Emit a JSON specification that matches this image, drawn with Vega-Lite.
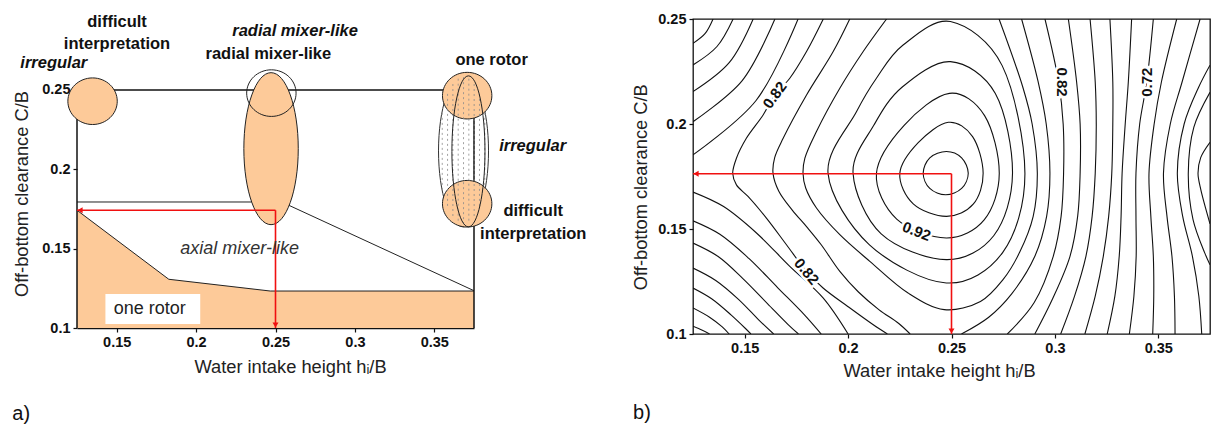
{
"$schema":"https://vega.github.io/schema/vega-lite/v6.json",
"background":"white",
"padding":{"left":12,"top":10,"right":0,"bottom":0},
"bounds":"flush",
"spacing":219,
"config":{
 "view":{"stroke":null},
 "axis":{"grid":false,"labelFont":"Liberation Sans","labelFontSize":14.5,"labelFontWeight":"bold","labelColor":"#111","tickColor":"#111","domainColor":"#111","tickSize":4,"tickWidth":1.2,"labelPadding":3,"titleFont":"Liberation Sans","titleFontSize":18.3,"titleFontWeight":"normal","titleColor":"#222"},
 "text":{"font":"Liberation Sans"}
},
"datasets":{
 "oneRotor":[{"x":0.125,"y":0.1742},{"x":0.1828,"y":0.1307},{"x":0.2467,"y":0.1233},{"x":0.375,"y":0.1233}],
 "bndA":[
  {"id":"lo","o":0,"x":0.125,"y":0.1742},{"id":"lo","o":1,"x":0.1828,"y":0.1307},{"id":"lo","o":2,"x":0.2467,"y":0.1233},{"id":"lo","o":3,"x":0.375,"y":0.1233},
  {"id":"up","o":0,"x":0.125,"y":0.1794},{"id":"up","o":1,"x":0.2539,"y":0.1794},{"id":"up","o":2,"x":0.375,"y":0.1235}],
 "boxA":[{"x":0.1429,"x2":0.2026,"y":0.1025,"y2":0.1214}],
 "frameA":[{"x":0.125,"y":0.1,"x2":0.125,"y2":0.25},{"x":0.125,"y":0.25,"x2":0.375,"y2":0.25},{"x":0.375,"y":0.1,"x2":0.375,"y2":0.25}],
 "ticksX":[{"x":0.15},{"x":0.2},{"x":0.25},{"x":0.3},{"x":0.35}],
 "ticksY":[{"y":0.15},{"y":0.2}],
 "shpA":[{"k":"lc","x":0.1348,"y":0.2429},{"k":"oc","x":0.2474,"y":0.248},{"k":"te","x":0.2472,"y":0.213},{"k":"rc","x":0.3707,"y":0.2464},{"k":"rc","x":0.3707,"y":0.1783},{"k":"we","x":0.3684,"y":0.2116},{"k":"ne","x":0.3715,"y":0.2113}],
 "arrA":[{"x":0.25,"y":0.1742,"x2":0.125,"y2":0.1742},{"x":0.25,"y":0.1742,"x2":0.25,"y2":0.1}],
 "headA":[{"k":"l","x":0.125,"y":0.1742},{"k":"d","x":0.25,"y":0.1}],
 "arrB":[{"x":0.25,"y":0.1763,"x2":0.125,"y2":0.1763},{"x":0.25,"y":0.1763,"x2":0.25,"y2":0.1}],
 "headB":[{"k":"l","x":0.125,"y":0.1763},{"k":"d","x":0.25,"y":0.1}],
 "txtA":[
  {"t":"difficult","x":0.1502,"y":0.2929,"k":"b"},
  {"t":"interpretation","x":0.1502,"y":0.2792,"k":"b"},
  {"t":"radial mixer-like","x":0.2455,"y":0.2729,"k":"b"},
  {"t":"one rotor","x":0.3861,"y":0.2687,"k":"b"},
  {"t":"difficult","x":0.4123,"y":0.1736,"k":"b"},
  {"t":"interpretation","x":0.4123,"y":0.1594,"k":"b"},
  {"t":"irregular","x":0.1104,"y":0.267,"k":"bi"},
  {"t":"irregular","x":0.4119,"y":0.2147,"k":"bi"},
  {"t":"radial mixer-like","x":0.2623,"y":0.287,"k":"bi"},
  {"t":"axial mixer-like","x":0.2274,"y":0.15,"k":"i"},
  {"t":"one rotor","x":0.1708,"y":0.1118,"k":"n"}],
 "capA":[{"t":"a)","x":0.0899,"y":0.0458}],
 "capB":[{"t":"b)","x":0.1003,"y":0.0623}],
 "labB":[
  {"k":"a","t":"0.82","x":0.1645,"y":0.2138},
  {"k":"b","t":"0.82","x":0.1799,"y":0.1298},
  {"k":"c","t":"0.92","x":0.2331,"y":0.1489},
  {"k":"d","t":"0.82","x":0.3035,"y":0.22},
  {"k":"e","t":"0.72","x":0.3444,"y":0.2199}],
 "loops":[
  {"id":"L96","o":0,"x":0.2581,"y":0.1765},{"id":"L96","o":1,"x":0.2549,"y":0.1839},{"id":"L96","o":2,"x":0.2475,"y":0.1869},{"id":"L96","o":3,"x":0.2395,"y":0.1839},{"id":"L96","o":4,"x":0.2363,"y":0.1765},{"id":"L96","o":5,"x":0.2395,"y":0.1693},{"id":"L96","o":6,"x":0.2472,"y":0.1663},{"id":"L96","o":7,"x":0.2549,"y":0.1693},
  {"id":"L94","o":0,"x":0.2653,"y":0.1765},{"id":"L94","o":1,"x":0.2602,"y":0.194},{"id":"L94","o":2,"x":0.2485,"y":0.2008},{"id":"L94","o":3,"x":0.2339,"y":0.1911},{"id":"L94","o":4,"x":0.225,"y":0.1765},{"id":"L94","o":5,"x":0.2315,"y":0.162},{"id":"L94","o":6,"x":0.2475,"y":0.156},{"id":"L94","o":7,"x":0.2605,"y":0.1618},
  {"id":"L92","o":0,"x":0.2731,"y":0.1765},{"id":"L92","o":1,"x":0.266,"y":0.204},{"id":"L92","o":2,"x":0.249,"y":0.2146},{"id":"L92","o":3,"x":0.2271,"y":0.1994},{"id":"L92","o":4,"x":0.2137,"y":0.1765},{"id":"L92","o":5,"x":0.2235,"y":0.1547},{"id":"L92","o":6,"x":0.2475,"y":0.1457},{"id":"L92","o":7,"x":0.2658,"y":0.1543},
  {"id":"L90","o":0,"x":0.2795,"y":0.1765},{"id":"L90","o":1,"x":0.2712,"y":0.2145},{"id":"L90","o":2,"x":0.2495,"y":0.2297},{"id":"L90","o":3,"x":0.2262,"y":0.2176},{"id":"L90","o":4,"x":0.2125,"y":0.1995},{"id":"L90","o":5,"x":0.2024,"y":0.1765},{"id":"L90","o":6,"x":0.216,"y":0.1477},{"id":"L90","o":7,"x":0.2475,"y":0.1354},{"id":"L90","o":8,"x":0.2705,"y":0.1469},
  {"id":"L88","o":0,"x":0.2855,"y":0.1765},{"id":"L88","o":1,"x":0.2745,"y":0.2278},{"id":"L88","o":2,"x":0.2495,"y":0.2488},{"id":"L88","o":3,"x":0.2266,"y":0.2376},{"id":"L88","o":4,"x":0.2137,"y":0.2218},{"id":"L88","o":5,"x":0.2041,"y":0.2059},{"id":"L88","o":6,"x":0.1903,"y":0.1765},{"id":"L88","o":7,"x":0.2102,"y":0.1426},{"id":"L88","o":8,"x":0.2475,"y":0.1243},{"id":"L88","o":9,"x":0.2748,"y":0.1389}],
 "open":[
  {"id":"T72","o":0,"x":0.125,"y":0.2384},{"id":"T72","o":1,"x":0.1308,"y":0.243},{"id":"T72","o":2,"x":0.1347,"y":0.25},
  {"id":"T74","o":0,"x":0.125,"y":0.2281},{"id":"T74","o":1,"x":0.1366,"y":0.2369},{"id":"T74","o":2,"x":0.1444,"y":0.25},
  {"id":"T76","o":0,"x":0.125,"y":0.2154},{"id":"T76","o":1,"x":0.1425,"y":0.2292},{"id":"T76","o":2,"x":0.1541,"y":0.25},
  {"id":"T78","o":0,"x":0.125,"y":0.2011},{"id":"T78","o":1,"x":0.1488,"y":0.2207},{"id":"T78","o":2,"x":0.1646,"y":0.25},
  {"id":"T80","o":0,"x":0.125,"y":0.1853},{"id":"T80","o":1,"x":0.1555,"y":0.2112},{"id":"T80","o":2,"x":0.1758,"y":0.25},
  {"id":"B68","o":0,"x":0.125,"y":0.1037},{"id":"B68","o":1,"x":0.1295,"y":0.1018},{"id":"B68","o":2,"x":0.133,"y":0.1},
  {"id":"B70","o":0,"x":0.125,"y":0.1124},{"id":"B70","o":1,"x":0.133,"y":0.108},{"id":"B70","o":2,"x":0.139,"y":0.1035},{"id":"B70","o":3,"x":0.1425,"y":0.1},
  {"id":"B72","o":0,"x":0.125,"y":0.1219},{"id":"B72","o":1,"x":0.134,"y":0.1168},{"id":"B72","o":2,"x":0.1435,"y":0.109},{"id":"B72","o":3,"x":0.1505,"y":0.1025},{"id":"B72","o":4,"x":0.153,"y":0.1},
  {"id":"B74","o":0,"x":0.125,"y":0.1314},{"id":"B74","o":1,"x":0.136,"y":0.1255},{"id":"B74","o":2,"x":0.147,"y":0.1165},{"id":"B74","o":3,"x":0.157,"y":0.1065},{"id":"B74","o":4,"x":0.164,"y":0.1},
  {"id":"B76","o":0,"x":0.125,"y":0.1433},{"id":"B76","o":1,"x":0.137,"y":0.137},{"id":"B76","o":2,"x":0.149,"y":0.1265},{"id":"B76","o":3,"x":0.161,"y":0.1145},{"id":"B76","o":4,"x":0.171,"y":0.1045},{"id":"B76","o":5,"x":0.176,"y":0.1},
  {"id":"B78","o":0,"x":0.125,"y":0.1539},{"id":"B78","o":1,"x":0.138,"y":0.1475},{"id":"B78","o":2,"x":0.152,"y":0.136},{"id":"B78","o":3,"x":0.166,"y":0.122},{"id":"B78","o":4,"x":0.179,"y":0.109},{"id":"B78","o":5,"x":0.187,"y":0.1},
  {"id":"B80","o":0,"x":0.125,"y":0.1676},{"id":"B80","o":1,"x":0.1396,"y":0.1608},{"id":"B80","o":2,"x":0.1557,"y":0.1481},{"id":"B80","o":3,"x":0.1718,"y":0.1322},{"id":"B80","o":4,"x":0.1879,"y":0.1172},{"id":"B80","o":5,"x":0.2,"y":0.1},
  {"id":"C82L","o":0,"x":0.188,"y":0.25},{"id":"C82L","o":1,"x":0.1799,"y":0.2345},{"id":"C82L","o":2,"x":0.1718,"y":0.2218},{"id":"C82L","o":3,"x":0.1645,"y":0.2138},{"id":"C82L","o":4,"x":0.1589,"y":0.2043},{"id":"C82L","o":5,"x":0.1508,"y":0.1932},{"id":"C82L","o":6,"x":0.146,"y":0.1837},{"id":"C82L","o":7,"x":0.1442,"y":0.1765},{"id":"C82L","o":8,"x":0.146,"y":0.171},{"id":"C82L","o":9,"x":0.1516,"y":0.1655},{"id":"C82L","o":10,"x":0.1605,"y":0.1552},{"id":"C82L","o":11,"x":0.1702,"y":0.1425},{"id":"C82L","o":12,"x":0.1799,"y":0.1298},{"id":"C82L","o":13,"x":0.1879,"y":0.1219},{"id":"C82L","o":14,"x":0.2,"y":0.113},{"id":"C82L","o":15,"x":0.212,"y":0.1045},{"id":"C82L","o":16,"x":0.219,"y":0.1},
  {"id":"C84L","o":0,"x":0.2008,"y":0.25},{"id":"C84L","o":1,"x":0.1928,"y":0.2345},{"id":"C84L","o":2,"x":0.1799,"y":0.2138},{"id":"C84L","o":3,"x":0.1686,"y":0.1932},{"id":"C84L","o":4,"x":0.1645,"y":0.184},{"id":"C84L","o":5,"x":0.1637,"y":0.1765},{"id":"C84L","o":6,"x":0.1665,"y":0.168},{"id":"C84L","o":7,"x":0.173,"y":0.159},{"id":"C84L","o":8,"x":0.18,"y":0.151},{"id":"C84L","o":9,"x":0.187,"y":0.1425},{"id":"C84L","o":10,"x":0.196,"y":0.1298},{"id":"C84L","o":11,"x":0.205,"y":0.12},{"id":"C84L","o":12,"x":0.215,"y":0.1115},{"id":"C84L","o":13,"x":0.2245,"y":0.105},{"id":"C84L","o":14,"x":0.23,"y":0.1},
  {"id":"C86","o":0,"x":0.2186,"y":0.25},{"id":"C86","o":1,"x":0.2073,"y":0.2345},{"id":"C86","o":2,"x":0.196,"y":0.217},{"id":"C86","o":3,"x":0.1847,"y":0.1964},{"id":"C86","o":4,"x":0.1791,"y":0.1837},{"id":"C86","o":5,"x":0.1782,"y":0.1765},{"id":"C86","o":6,"x":0.1795,"y":0.1695},{"id":"C86","o":7,"x":0.1847,"y":0.16},{"id":"C86","o":8,"x":0.196,"y":0.1473},{"id":"C86","o":9,"x":0.2105,"y":0.1346},{"id":"C86","o":10,"x":0.229,"y":0.1195},{"id":"C86","o":11,"x":0.2465,"y":0.1116},{"id":"C86","o":12,"x":0.264,"y":0.1155},{"id":"C86","o":13,"x":0.275,"y":0.126},{"id":"C86","o":14,"x":0.283,"y":0.139},{"id":"C86","o":15,"x":0.2895,"y":0.156},{"id":"C86","o":16,"x":0.2915,"y":0.1765},{"id":"C86","o":17,"x":0.289,"y":0.2},{"id":"C86","o":18,"x":0.2845,"y":0.2175},{"id":"C86","o":19,"x":0.273,"y":0.25},
  {"id":"C84R","o":0,"x":0.2548,"y":0.1},{"id":"C84R","o":1,"x":0.268,"y":0.108},{"id":"C84R","o":2,"x":0.279,"y":0.119},{"id":"C84R","o":3,"x":0.2903,"y":0.137},{"id":"C84R","o":4,"x":0.296,"y":0.156},{"id":"C84R","o":5,"x":0.2976,"y":0.1765},{"id":"C84R","o":6,"x":0.2958,"y":0.2},{"id":"C84R","o":7,"x":0.2918,"y":0.2205},{"id":"C84R","o":8,"x":0.2839,"y":0.25},
  {"id":"C82R","o":0,"x":0.277,"y":0.1},{"id":"C82R","o":1,"x":0.29,"y":0.115},{"id":"C82R","o":2,"x":0.2992,"y":0.137},{"id":"C82R","o":3,"x":0.303,"y":0.156},{"id":"C82R","o":4,"x":0.3042,"y":0.1765},{"id":"C82R","o":5,"x":0.304,"y":0.2},{"id":"C82R","o":6,"x":0.3018,"y":0.22},{"id":"C82R","o":7,"x":0.2952,"y":0.25},
  {"id":"C80","o":0,"x":0.2903,"y":0.1},{"id":"C80","o":1,"x":0.299,"y":0.117},{"id":"C80","o":2,"x":0.3073,"y":0.137},{"id":"C80","o":3,"x":0.311,"y":0.156},{"id":"C80","o":4,"x":0.3122,"y":0.1765},{"id":"C80","o":5,"x":0.3122,"y":0.2},{"id":"C80","o":6,"x":0.3105,"y":0.22},{"id":"C80","o":7,"x":0.3065,"y":0.25},
  {"id":"C78","o":0,"x":0.3028,"y":0.1},{"id":"C78","o":1,"x":0.3095,"y":0.118},{"id":"C78","o":2,"x":0.315,"y":0.137},{"id":"C78","o":3,"x":0.318,"y":0.156},{"id":"C78","o":4,"x":0.3195,"y":0.1765},{"id":"C78","o":5,"x":0.32,"y":0.2},{"id":"C78","o":6,"x":0.3195,"y":0.22},{"id":"C78","o":7,"x":0.317,"y":0.25},
  {"id":"C76","o":0,"x":0.3145,"y":0.1},{"id":"C76","o":1,"x":0.3195,"y":0.118},{"id":"C76","o":2,"x":0.3234,"y":0.137},{"id":"C76","o":3,"x":0.326,"y":0.156},{"id":"C76","o":4,"x":0.3275,"y":0.1765},{"id":"C76","o":5,"x":0.328,"y":0.2},{"id":"C76","o":6,"x":0.328,"y":0.22},{"id":"C76","o":7,"x":0.3266,"y":0.25},
  {"id":"C74","o":0,"x":0.3253,"y":0.1},{"id":"C74","o":1,"x":0.329,"y":0.118},{"id":"C74","o":2,"x":0.3311,"y":0.137},{"id":"C74","o":3,"x":0.332,"y":0.156},{"id":"C74","o":4,"x":0.3325,"y":0.1765},{"id":"C74","o":5,"x":0.334,"y":0.2},{"id":"C74","o":6,"x":0.3355,"y":0.22},{"id":"C74","o":7,"x":0.3371,"y":0.25},
  {"id":"C72","o":0,"x":0.336,"y":0.1},{"id":"C72","o":1,"x":0.3382,"y":0.118},{"id":"C72","o":2,"x":0.3393,"y":0.137},{"id":"C72","o":3,"x":0.3392,"y":0.156},{"id":"C72","o":4,"x":0.3392,"y":0.1765},{"id":"C72","o":5,"x":0.341,"y":0.2},{"id":"C72","o":6,"x":0.3444,"y":0.2199},{"id":"C72","o":7,"x":0.3476,"y":0.25},
  {"id":"C70","o":0,"x":0.3473,"y":0.1},{"id":"C70","o":1,"x":0.3478,"y":0.118},{"id":"C70","o":2,"x":0.3476,"y":0.137},{"id":"C70","o":3,"x":0.3464,"y":0.156},{"id":"C70","o":4,"x":0.3455,"y":0.1765},{"id":"C70","o":5,"x":0.348,"y":0.2},{"id":"C70","o":6,"x":0.3515,"y":0.22},{"id":"C70","o":7,"x":0.3589,"y":0.25},
  {"id":"C68","o":0,"x":0.3581,"y":0.1},{"id":"C68","o":1,"x":0.3578,"y":0.118},{"id":"C68","o":2,"x":0.3566,"y":0.137},{"id":"C68","o":3,"x":0.3542,"y":0.156},{"id":"C68","o":4,"x":0.3525,"y":0.1765},{"id":"C68","o":5,"x":0.3558,"y":0.2},{"id":"C68","o":6,"x":0.3615,"y":0.22},{"id":"C68","o":7,"x":0.3702,"y":0.25},
  {"id":"C66","o":0,"x":0.371,"y":0.1},{"id":"C66","o":1,"x":0.3696,"y":0.118},{"id":"C66","o":2,"x":0.3665,"y":0.137},{"id":"C66","o":3,"x":0.3618,"y":0.156},{"id":"C66","o":4,"x":0.3592,"y":0.1765},{"id":"C66","o":5,"x":0.3625,"y":0.2},{"id":"C66","o":6,"x":0.3695,"y":0.2175},{"id":"C66","o":7,"x":0.375,"y":0.228},
  {"id":"G","o":0,"x":0.375,"y":0.2151},{"id":"G","o":1,"x":0.3672,"y":0.1985},{"id":"G","o":2,"x":0.3645,"y":0.1765},{"id":"G","o":3,"x":0.3668,"y":0.1545},{"id":"G","o":4,"x":0.3725,"y":0.1385},{"id":"G","o":5,"x":0.375,"y":0.133},
  {"id":"H","o":0,"x":0.375,"y":0.1913},{"id":"H","o":1,"x":0.3705,"y":0.184},{"id":"H","o":2,"x":0.3692,"y":0.1765},{"id":"H","o":3,"x":0.3705,"y":0.169},{"id":"H","o":4,"x":0.375,"y":0.1525}]
},
"resolve":{"scale":{"x":"independent","y":"independent"}},
"hconcat":[
{
 "width":397,"height":309,
 "view":{"stroke":null},
 "encoding":{
  "x":{"field":"x","type":"quantitative","scale":{"domain":[0.125,0.375],"nice":false,"zero":false},"axis":{"values":[0.15,0.2,0.25,0.3,0.35],"format":"~g","title":"Water intake height hᵢ/B","titleX":213,"titleY":30,"domainWidth":1.5}},
  "y":{"field":"y","type":"quantitative","scale":{"domain":[0.1,0.2947],"nice":false,"zero":false},"axis":{"values":[0.1,0.15,0.2,0.25],"format":"~g","domain":false,"title":"Off-bottom clearance C/B","titleX":-46,"titleY":174.5}}
 },
 "layer":[
  {"data":{"name":"oneRotor"},"mark":{"type":"area","color":"#fdca99","opacity":1},"encoding":{"y2":{"datum":0.1}}},
  {"data":{"name":"bndA"},"mark":{"type":"line","color":"#222","strokeWidth":1},"encoding":{"detail":{"field":"id"},"order":{"field":"o"}}},
  {"data":{"name":"boxA"},"mark":{"type":"rect","fill":"white"},"encoding":{"x2":{"field":"x2"},"y2":{"field":"y2"}}},
  {"data":{"name":"frameA"},"mark":{"type":"rule","color":"#111","strokeWidth":1.5},"encoding":{"x2":{"field":"x2"},"y2":{"field":"y2"}}},
  {"data":{"name":"ticksX"},"mark":{"type":"tick","orient":"vertical","size":5,"thickness":1.2,"yOffset":-2.5,"color":"#111"},"encoding":{"y":{"datum":0.25}}},
  {"data":{"name":"ticksY"},"mark":{"type":"tick","orient":"horizontal","size":5,"thickness":1.2,"xOffset":2.5,"color":"#111"},"encoding":{"x":{"datum":0.375}}},
  {"data":{"name":"shpA"},"transform":[{"filter":"datum.k == 'we'"}],"mark":{"type":"point","shape":"M0,-1A0.329,1 0 1,1 0,1A0.329,1 0 1,1 0,-1Z","size":23104,"filled":false,"stroke":"#333","strokeWidth":1,"opacity":1}},
  {"data":{"name":"shpA"},"transform":[{"filter":"datum.k == 'te'"}],"mark":{"type":"point","shape":"M0,-1A0.358,1 0 1,1 0,1A0.358,1 0 1,1 0,-1Z","size":23104,"filled":true,"fill":"#fdca99","stroke":"#222","strokeWidth":1,"opacity":1}},
  {"data":{"name":"shpA"},"transform":[{"filter":"datum.k == 'lc' || datum.k == 'rc'"}],"mark":{"type":"point","shape":"M0,-1A1.06,1 0 1,1 0,1A1.06,1 0 1,1 0,-1Z","size":2172,"filled":true,"fill":"#fdca99","stroke":"#222","strokeWidth":1,"opacity":1}},
  {"data":{"name":"shpA"},"transform":[{"filter":"datum.k == 'we'"}],"mark":{"type":"point","shape":"M-0.28,-0.5L-0.28,0.5M-0.21,-0.75L-0.21,0.75M-0.14,-0.88L-0.14,0.88M-0.07,-0.95L-0.07,0.95M0,-0.97L0,0.97M0.07,-0.95L0.07,0.95M0.14,-0.88L0.14,0.88M0.21,-0.75L0.21,0.75M0.28,-0.5L0.28,0.5","size":23104,"filled":false,"stroke":"#8a8a8a","strokeWidth":0.8,"strokeDash":[2,3],"opacity":1}},
  {"data":{"name":"shpA"},"transform":[{"filter":"datum.k == 'ne'"}],"mark":{"type":"point","shape":"M0,-1A0.219,1 0 1,1 0,1A0.219,1 0 1,1 0,-1Z","size":22801,"filled":false,"stroke":"#222","strokeWidth":1,"opacity":1}},
  {"data":{"name":"shpA"},"transform":[{"filter":"datum.k == 'oc'"}],"mark":{"type":"point","shape":"M0,-1A1.06,1 0 1,1 0,1A1.06,1 0 1,1 0,-1Z","size":2172,"filled":false,"stroke":"#222","strokeWidth":1,"opacity":1}},
  {"data":{"name":"arrA"},"mark":{"type":"rule","color":"#f01010","strokeWidth":1.6},"encoding":{"x2":{"field":"x2"},"y2":{"field":"y2"}}},
  {"data":{"name":"headA"},"transform":[{"filter":"datum.k == 'l'"}],"mark":{"type":"point","shape":"triangle-left","filled":true,"color":"#f01010","size":36,"xOffset":3,"opacity":1}},
  {"data":{"name":"headA"},"transform":[{"filter":"datum.k == 'd'"}],"mark":{"type":"point","shape":"triangle-down","filled":true,"color":"#f01010","size":36,"yOffset":-3,"opacity":1}},
  {"data":{"name":"txtA"},"transform":[{"filter":"datum.k == 'b'"}],"mark":{"type":"text","font":"Liberation Sans","fontSize":16.5,"fontWeight":"bold","color":"#111","align":"center","baseline":"middle"},"encoding":{"text":{"field":"t"}}},
  {"data":{"name":"txtA"},"transform":[{"filter":"datum.k == 'bi'"}],"mark":{"type":"text","font":"Liberation Sans","fontSize":16.5,"fontWeight":"bold","fontStyle":"italic","color":"#111","align":"center","baseline":"middle"},"encoding":{"text":{"field":"t"}}},
  {"data":{"name":"txtA"},"transform":[{"filter":"datum.k == 'i'"}],"mark":{"type":"text","font":"Liberation Sans","fontSize":18,"fontStyle":"italic","color":"#333","align":"center","baseline":"middle"},"encoding":{"text":{"field":"t"}}},
  {"data":{"name":"txtA"},"transform":[{"filter":"datum.k == 'n'"}],"mark":{"type":"text","font":"Liberation Sans","fontSize":18,"color":"#222","align":"center","baseline":"middle"},"encoding":{"text":{"field":"t"}}},
  {"data":{"name":"capA"},"mark":{"type":"text","font":"Liberation Sans","fontSize":20,"color":"#111","align":"center","baseline":"middle"},"encoding":{"text":{"field":"t"}}}
 ]
},
{
 "width":517,"height":315,
 "view":{"stroke":"#111","strokeWidth":1.3},
 "encoding":{
  "x":{"field":"x","type":"quantitative","scale":{"domain":[0.125,0.375],"nice":false,"zero":false},"axis":{"values":[0.15,0.2,0.25,0.3,0.35],"format":"~g","domain":false,"title":"Water intake height hᵢ/B","titleX":246,"titleY":28}},
  "y":{"field":"y","type":"quantitative","scale":{"domain":[0.1,0.25],"nice":false,"zero":false},"axis":{"values":[0.1,0.15,0.2,0.25],"format":"~g","domain":false,"title":"Off-bottom clearance C/B","titleX":-43,"titleY":167.7}}
 },
 "layer":[
  {"data":{"name":"open"},"mark":{"type":"line","color":"#111","strokeWidth":1.1,"interpolate":"catmull-rom","clip":true},"encoding":{"detail":{"field":"id"},"order":{"field":"o"}}},
  {"data":{"name":"loops"},"mark":{"type":"line","color":"#111","strokeWidth":1.1,"interpolate":"cardinal-closed","clip":true},"encoding":{"detail":{"field":"id"},"order":{"field":"o"}}},
  {"data":{"name":"labB"},"transform":[{"filter":"datum.k == 'a'"}],"mark":{"type":"text","angle":-54,"font":"Liberation Sans","fontSize":15,"fontWeight":"bold","fill":"white","stroke":"white","strokeWidth":5,"align":"center","baseline":"middle"},"encoding":{"text":{"field":"t"}}},
  {"data":{"name":"labB"},"transform":[{"filter":"datum.k == 'a'"}],"mark":{"type":"text","angle":-54,"font":"Liberation Sans","fontSize":15,"fontWeight":"bold","color":"#111","align":"center","baseline":"middle"},"encoding":{"text":{"field":"t"}}},
  {"data":{"name":"labB"},"transform":[{"filter":"datum.k == 'b'"}],"mark":{"type":"text","angle":50,"font":"Liberation Sans","fontSize":15,"fontWeight":"bold","fill":"white","stroke":"white","strokeWidth":5,"align":"center","baseline":"middle"},"encoding":{"text":{"field":"t"}}},
  {"data":{"name":"labB"},"transform":[{"filter":"datum.k == 'b'"}],"mark":{"type":"text","angle":50,"font":"Liberation Sans","fontSize":15,"fontWeight":"bold","color":"#111","align":"center","baseline":"middle"},"encoding":{"text":{"field":"t"}}},
  {"data":{"name":"labB"},"transform":[{"filter":"datum.k == 'c'"}],"mark":{"type":"text","angle":21,"font":"Liberation Sans","fontSize":15,"fontWeight":"bold","fill":"white","stroke":"white","strokeWidth":5,"align":"center","baseline":"middle"},"encoding":{"text":{"field":"t"}}},
  {"data":{"name":"labB"},"transform":[{"filter":"datum.k == 'c'"}],"mark":{"type":"text","angle":21,"font":"Liberation Sans","fontSize":15,"fontWeight":"bold","color":"#111","align":"center","baseline":"middle"},"encoding":{"text":{"field":"t"}}},
  {"data":{"name":"labB"},"transform":[{"filter":"datum.k == 'd'"}],"mark":{"type":"text","angle":90,"font":"Liberation Sans","fontSize":15,"fontWeight":"bold","fill":"white","stroke":"white","strokeWidth":5,"align":"center","baseline":"middle"},"encoding":{"text":{"field":"t"}}},
  {"data":{"name":"labB"},"transform":[{"filter":"datum.k == 'd'"}],"mark":{"type":"text","angle":90,"font":"Liberation Sans","fontSize":15,"fontWeight":"bold","color":"#111","align":"center","baseline":"middle"},"encoding":{"text":{"field":"t"}}},
  {"data":{"name":"labB"},"transform":[{"filter":"datum.k == 'e'"}],"mark":{"type":"text","angle":-90,"font":"Liberation Sans","fontSize":15,"fontWeight":"bold","fill":"white","stroke":"white","strokeWidth":5,"align":"center","baseline":"middle"},"encoding":{"text":{"field":"t"}}},
  {"data":{"name":"labB"},"transform":[{"filter":"datum.k == 'e'"}],"mark":{"type":"text","angle":-90,"font":"Liberation Sans","fontSize":15,"fontWeight":"bold","color":"#111","align":"center","baseline":"middle"},"encoding":{"text":{"field":"t"}}},
  {"data":{"name":"arrB"},"mark":{"type":"rule","color":"#f01010","strokeWidth":1.6},"encoding":{"x2":{"field":"x2"},"y2":{"field":"y2"}}},
  {"data":{"name":"headB"},"transform":[{"filter":"datum.k == 'l'"}],"mark":{"type":"point","shape":"triangle-left","filled":true,"color":"#f01010","size":36,"xOffset":3,"opacity":1}},
  {"data":{"name":"headB"},"transform":[{"filter":"datum.k == 'd'"}],"mark":{"type":"point","shape":"triangle-down","filled":true,"color":"#f01010","size":36,"yOffset":-3,"opacity":1}},
  {"data":{"name":"ticksX"},"mark":{"type":"tick","orient":"vertical","size":5,"thickness":1.2,"yOffset":-2.5,"color":"#111"},"encoding":{"y":{"datum":0.25}}},
  {"data":{"name":"ticksY"},"mark":{"type":"tick","orient":"horizontal","size":5,"thickness":1.2,"xOffset":2.5,"color":"#111"},"encoding":{"x":{"datum":0.375}}},
  {"data":{"name":"capB"},"mark":{"type":"text","font":"Liberation Sans","fontSize":20,"color":"#111","align":"center","baseline":"middle"},"encoding":{"text":{"field":"t"}}}
 ]
}
]
}
